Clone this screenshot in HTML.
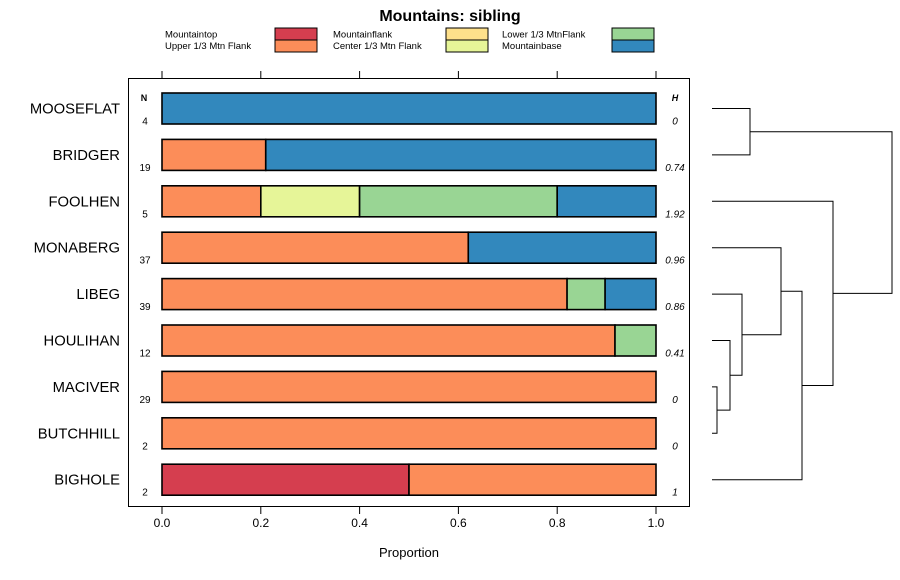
<!DOCTYPE html>
<html><head><meta charset="utf-8"><style>
body{margin:0;background:#fff}
svg{display:block;font-family:"Liberation Sans",sans-serif}
</style></head><body>
<svg id="c" width="900" height="580"></svg>
<script>
const categories=["MOOSEFLAT","BRIDGER","FOOLHEN","MONABERG","LIBEG","HOULIHAN","MACIVER","BUTCHHILL","BIGHOLE"];
const nValues=[4,19,5,37,39,12,29,2,2];
const hValues=["0","0.74","1.92","0.96","0.86","0.41","0","0","1"];
const seriesNames=["Mountaintop","Upper 1/3 Mtn Flank","Mountainflank","Center 1/3 Mtn Flank","Lower 1/3 MtnFlank","Mountainbase"];
const seriesColors=["#d53e4f","#fc8d59","#fee08b","#e6f598","#99d594","#3288bd"];
const sMountaintop=[0,0,0,0,0,0,0,0,0.5];
const sUpper=[0,0.21,0.2,0.62,0.82,0.917,1,1,0.5];
const sFlank=[0,0,0,0,0,0,0,0,0];
const sCenter=[0,0,0.2,0,0,0,0,0,0];
const sLower=[0,0,0.4,0,0.077,0.083,0,0,0];
const sBase=[1,0.79,0.2,0.38,0.103,0,0,0,0];
const xTicks=[0,0.2,0.4,0.6,0.8,1.0];
const xTickLabels=["0.0","0.2","0.4","0.6","0.8","1.0"];

const svg=document.getElementById('c');
const NS="http://www.w3.org/2000/svg";
function el(t,a,p){const e=document.createElementNS(NS,t);for(const k in a)e.setAttribute(k,a[k]);(p||svg).appendChild(e);return e;}
const X=v=>162+v*494;
const Y=i=>108.5+i*46.4;

let t=el('text',{x:450,y:21,'text-anchor':'middle','font-size':16,'font-weight':'bold'});t.textContent="Mountains: sibling";


const lx=[165,333,502],bx=[275,446,612];
seriesNames.forEach((n,i)=>{
  const col=Math.floor(i/2),row=i%2;
  const g=el('g',{});
  
  
  const tt=el('text',{x:lx[col],y:37.5+row*11.5,'font-size':9.5},g);tt.textContent=n;
  el('rect',{x:bx[col],y:28+row*12,width:42,height:12,fill:seriesColors[i],stroke:'#000','stroke-width':1},g);
});

const fr=el('rect',{x:128.5,y:78.5,width:561,height:428,fill:'none',stroke:'#000','stroke-width':1});


xTicks.forEach((v,i)=>{
  el('line',{x1:X(v),x2:X(v),y1:71,y2:78,stroke:'#000'});
  el('line',{x1:X(v),x2:X(v),y1:507,y2:514,stroke:'#000'});
  const tl=el('text',{x:X(v),y:527,'text-anchor':'middle','font-size':12});tl.textContent=xTickLabels[i];
  
});
let xt=el('text',{x:409,y:557,'text-anchor':'middle','font-size':13});xt.textContent="Proportion";


let nh=el('text',{x:144,y:101,'text-anchor':'middle','font-size':9,'font-weight':'bold'});nh.textContent="N";

let hh=el('text',{x:675,y:101,'text-anchor':'middle','font-size':9,'font-weight':'bold','font-style':'italic'});hh.textContent="H";


const series=[sMountaintop,sUpper,sFlank,sCenter,sLower,sBase];
categories.forEach((c,i)=>{
  const y=Y(i);
  const lab=el('text',{x:120,y:y+5,'text-anchor':'end','font-size':14.8});lab.textContent=c;
  
  const nl=el('text',{x:145,y:y+16,'text-anchor':'middle','font-size':10});nl.textContent=nValues[i];
  
  const hl=el('text',{x:675,y:y+16,'text-anchor':'middle','font-size':10,'font-style':'italic'});hl.textContent=hValues[i];
  
  let cum=0;
  series.forEach((s,k)=>{
    const v=s[i];if(v<=0)return;
    const r=el('rect',{x:X(cum),y:y-15.5,width:X(cum+v)-X(cum),height:31,fill:seriesColors[k],stroke:'#000','stroke-width':1.6});
    
    cum+=v;
  });
});

const dg=el('g',{fill:'none',stroke:'#000','stroke-width':1});

const L=712;
function br(x,y1,x1,y2,x2){el('path',{d:`M${x1},${y1}H${x}V${y2}H${x2}`},dg);}
br(750,Y(0),L,Y(1),L);
const a=(Y(0)+Y(1))/2;
br(717,Y(6),L,Y(7),L);const g=(Y(6)+Y(7))/2;
br(730,Y(5),L,g,717);const f=(Y(5)+g)/2;
br(742,Y(4),L,f,730);const e=(Y(4)+f)/2;
br(781,Y(3),L,e,742);const d=(Y(3)+e)/2;
br(802,d,781,Y(8),L);const cc=(d+Y(8))/2;
br(833,Y(2),L,cc,802);const b=(Y(2)+cc)/2;
br(892,a,750,b,833);
</script>
</body></html>
